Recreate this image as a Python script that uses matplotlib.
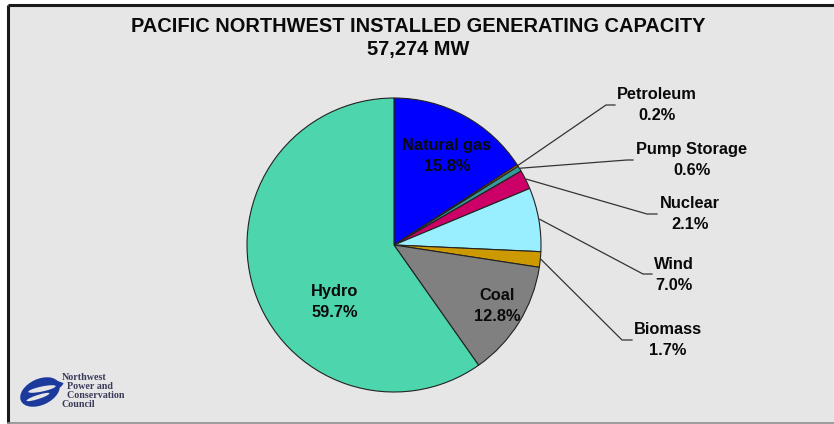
import matplotlib
matplotlib.use("Agg")
import matplotlib.pyplot as plt
from matplotlib.patches import Rectangle, Ellipse, Wedge
import numpy as np

plt.rcParams['font.family'] = ['Liberation Sans', 'DejaVu Sans']

title = "PACIFIC NORTHWEST INSTALLED GENERATING CAPACITY"
subtitle = "57,274 MW"
categories = ["Natural gas", "Petroleum", "Pump Storage", "Nuclear", "Wind", "Biomass", "Coal", "Hydro"]
shares = [15.8, 0.2, 0.6, 2.1, 7.0, 1.7, 12.8, 59.7]
colors = ["#0000ff", "#ff8000", "#339999", "#cc0066", "#99eeff", "#cc9900", "#808080", "#4dd5ad"]

W, H = 834, 424
fig = plt.figure(figsize=(W / 100, H / 100), dpi=100, facecolor="white")
ax = fig.add_axes([0, 0, 1, 1])

def Y(py):
    return H - py

# background panel
ax.add_patch(Rectangle((8, Y(423)), W, 419, facecolor="#e6e6e6", edgecolor="none", zorder=0))
ax.plot([8.5, 8.5], [Y(423), Y(4.5)], color="#1a1a1a", lw=2.2, zorder=1, solid_capstyle="butt")
ax.plot([8, W], [Y(4.5), Y(4.5)], color="#1a1a1a", lw=2.2, zorder=1, solid_capstyle="butt")
ax.plot([8, W], [Y(423), Y(423)], color="#8c8c8c", lw=1.2, zorder=1)

cx, cy, r = 394, Y(245), 147
wedges, _ = ax.pie(shares, colors=colors, startangle=90, counterclock=False,
                   center=(cx, cy), radius=r,
                   wedgeprops=dict(edgecolor="#222222", linewidth=0.8))

ax.set_xlim(0, W)
ax.set_ylim(0, H)
ax.set_aspect("equal")
ax.axis("off")

ax.text(418, Y(26), title, ha="center", va="center", fontsize=14.4, fontweight="bold", color="#0a0a0a")
ax.text(418, Y(50), subtitle, ha="center", va="center", fontsize=14.4, fontweight="bold", color="#0a0a0a")

lab_kw = dict(ha="center", va="center", fontsize=11.8, fontweight="bold", color="#0a0a0a", linespacing=1.5)

inside = {"Natural gas": (447, 156), "Hydro": (335, 302), "Coal": (497, 306)}
outside = {
    "Petroleum": ((657, 105), (606, 105), (615, 105)),
    "Pump Storage": ((692, 160), (627, 160), (633, 160)),
    "Nuclear": ((690, 214), (647, 214), (657, 214)),
    "Wind": ((674, 275), (643, 274), (652, 274)),
    "Biomass": ((668, 340), (622, 340), (632, 340)),
}

cum = np.cumsum([0] + shares)
total = sum(shares)
for i, name in enumerate(categories):
    label = f"{name}\n{shares[i]:.1f}%"
    if name in inside:
        x, y = inside[name]
        ax.text(x, Y(y), label, zorder=5, **lab_kw)
    else:
        (tx, ty), (ex, ey), (hx, hy) = outside[name]
        mid = 90 - (cum[i] + cum[i + 1]) / 2 / total * 360
        sx = cx + (r + 1) * np.cos(np.radians(mid))
        sy = cy + (r + 1) * np.sin(np.radians(mid))
        ax.plot([sx, ex, hx], [sy, Y(ey), Y(hy)], color="#333333", lw=0.9, zorder=4)
        ax.text(tx, Y(ty), label, zorder=5, **lab_kw)

# logo
logo_c = "#1b3a9c"
ax.add_patch(Ellipse((40, Y(392)), 42, 26, angle=25, facecolor=logo_c, edgecolor="none", zorder=3))
ax.add_patch(Ellipse((42, Y(389)), 28, 5, angle=12, facecolor="#e6e6e6", edgecolor="none", zorder=4))
ax.add_patch(Ellipse((38, Y(397)), 24, 4, angle=18, facecolor="#e6e6e6", edgecolor="none", zorder=4))
ax.add_patch(Wedge((55, Y(380)), 9, 200, 340, facecolor=logo_c, edgecolor="none", zorder=3))
ax.text(62, Y(391), "Northwest\n  Power and\n  Conservation\nCouncil", ha="left", va="center",
        fontsize=7.2, family=["Liberation Serif", "DejaVu Serif"], fontweight="bold", color="#3a3a5a",
        linespacing=1.02, zorder=5)

fig.savefig("out.png", dpi=100, facecolor="white")
